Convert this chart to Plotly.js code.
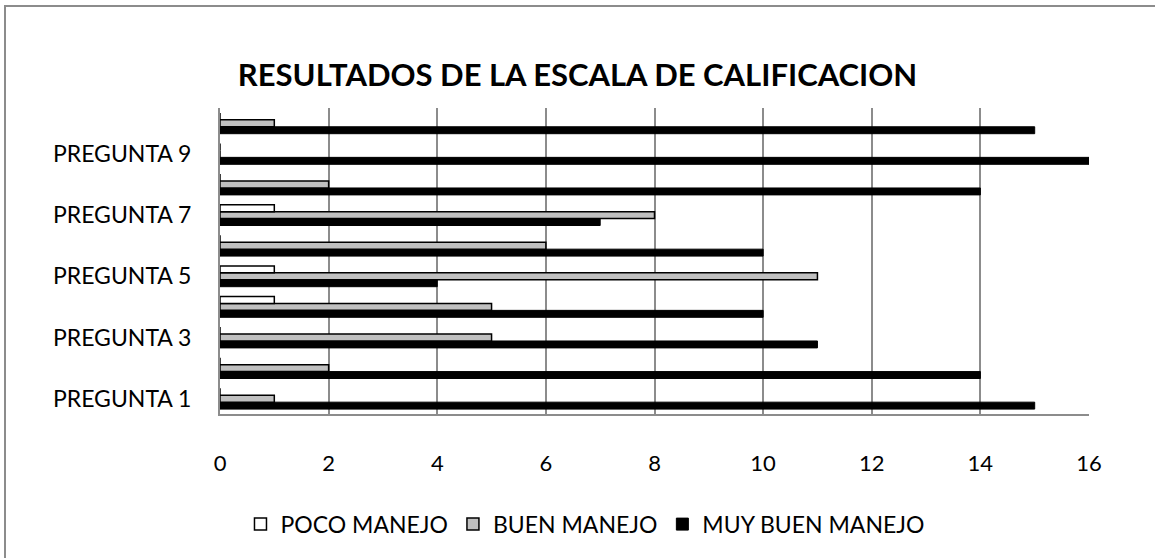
<!DOCTYPE html>
<html>
<head>
<meta charset="utf-8">
<script src="https://cdn.plot.ly/plotly-3.0.1.min.js"></script>
<style>
html,body{margin:0;padding:0;background:#fff;overflow:hidden;}
#frame{position:absolute;left:4px;top:5px;width:1170px;height:570px;border:2px solid #8c8c8c;box-sizing:border-box;}
#chart{position:absolute;left:0;top:0;width:1155px;height:558px;}
</style>
</head>
<body>
<div id="frame"></div>
<div id="chart"></div>
<script>
const categories = ['PREGUNTA 1','PREGUNTA 2','PREGUNTA 3','PREGUNTA 4','PREGUNTA 5','PREGUNTA 6','PREGUNTA 7','PREGUNTA 8','PREGUNTA 9','PREGUNTA 10'];
const shownLabels = ['PREGUNTA 1','PREGUNTA 3','PREGUNTA 5','PREGUNTA 7','PREGUNTA 9'];
const pocoManejo = [0,0,0,1,1,0,1,0,0,0];
const buenManejo = [1,2,5,5,11,6,8,2,0,1];
const muyBuenManejo = [15,14,11,10,4,10,7,14,16,15];
const xTicks = [0,2,4,6,8,10,12,14,16];

const font = "Lato, 'Open Sans', sans-serif";
const traces = [
  {name:'MUY BUEN MANEJO', y:categories, x:muyBuenManejo, type:'bar', orientation:'h',
   marker:{color:'#000000', line:{color:'#000', width:1}}, legendrank:3},
  {name:'BUEN MANEJO', y:categories, x:buenManejo, type:'bar', orientation:'h',
   marker:{color:'#c0c0c0', line:{color:'#000', width:1.5}}, legendrank:2},
  {name:'POCO MANEJO', y:categories, x:pocoManejo, type:'bar', orientation:'h',
   marker:{color:'#ffffff', line:{color:'#000', width:1.5}}, legendrank:1}
];
const layout = {
  width:1155, height:558,
  margin:{l:220, r:66, t:108, b:142},
  paper_bgcolor:'rgba(0,0,0,0)', plot_bgcolor:'#fff',
  title:{text:'<b>RESULTADOS DE LA ESCALA DE CALIFICACION</b>', x:0.5, xanchor:'center', y:0.865, yanchor:'middle',
         font:{family:font, size:31, color:'#000'}},
  barmode:'group', bargap:0.32, bargroupgap:0,
  xaxis:{range:[0,16], tickvals:xTicks, showgrid:true, gridcolor:'#8c8c8c', gridwidth:2,
         zeroline:false, showline:true, linecolor:'#8c8c8c', linewidth:2, mirror:false,
         ticks:'outside', ticklen:29, tickcolor:'rgba(0,0,0,0)',
         tickfont:{family:font, size:22, color:'#000'}},
  yaxis:{type:'category', categoryorder:'array', categoryarray:categories,
         tickvals:shownLabels, ticktext:shownLabels, showgrid:false, zeroline:false,
         showline:true, linecolor:'#8c8c8c', linewidth:2,
         ticks:'outside', ticklen:22, tickcolor:'rgba(0,0,0,0)',
         tickfont:{family:font, size:23, color:'#000'}},
  legend:{orientation:'h', x:0.42, xanchor:'center', y:-0.36, yanchor:'middle',
          font:{family:font, size:23, color:'#000'}, itemwidth:30, traceorder:'normal'},
  showlegend:true
};
Plotly.newPlot('chart', traces, layout, {displayModeBar:false, staticPlot:true});
</script>
</body>
</html>
